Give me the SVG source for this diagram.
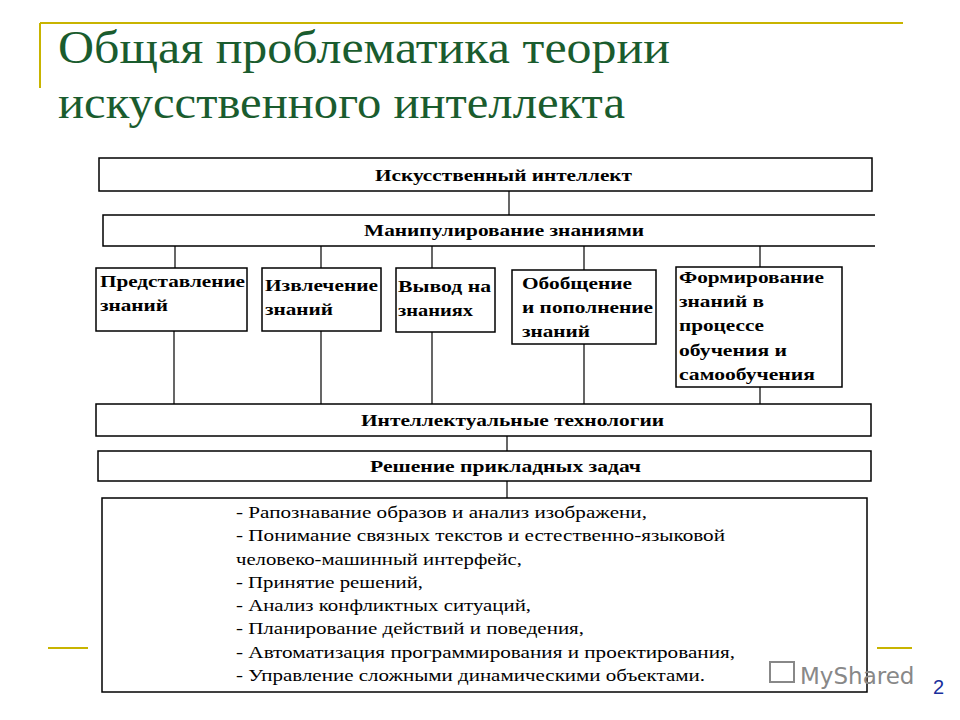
<svg xmlns="http://www.w3.org/2000/svg" width="960" height="720" viewBox="0 0 960 720">
<style>
.b{fill:#fff;stroke:#000;stroke-width:1.5}
.c{stroke:#000;stroke-width:1.2;fill:none}
.t{font-family:"Liberation Serif",serif;font-weight:bold;font-size:17px;fill:#000}
.m{text-anchor:middle}
.l{font-family:"Liberation Serif",serif;font-size:17px;fill:#000}
.g{stroke:#c8b400;stroke-width:2}
</style>
<rect width="960" height="720" fill="#fff"/>
<line class="g" x1="40" y1="23" x2="903" y2="23"/>
<line class="g" x1="40" y1="23" x2="40" y2="88"/>
<line class="g" x1="48" y1="648" x2="88" y2="648"/>
<line class="g" x1="877" y1="648" x2="912" y2="648"/>
<text x="58" y="63" font-family="Liberation Serif,serif" font-size="46" fill="#1a5c2e" textLength="612" lengthAdjust="spacingAndGlyphs">Общая проблематика теории</text>
<text x="58" y="118" font-family="Liberation Serif,serif" font-size="46" fill="#1a5c2e" textLength="567" lengthAdjust="spacingAndGlyphs">искусственного интеллекта</text>
<g id="connectors">
<line class="c" x1="509" y1="191" x2="509" y2="215"/>
<line class="c" x1="175" y1="246" x2="175" y2="268"/>
<line class="c" x1="321" y1="246" x2="321" y2="268"/>
<line class="c" x1="432" y1="246" x2="432" y2="268"/>
<line class="c" x1="584" y1="246" x2="584" y2="270"/>
<line class="c" x1="760" y1="246" x2="760" y2="267"/>
<line class="c" x1="174" y1="331" x2="174" y2="404"/>
<line class="c" x1="321" y1="331" x2="321" y2="404"/>
<line class="c" x1="432" y1="332" x2="432" y2="404"/>
<line class="c" x1="584" y1="344" x2="584" y2="404"/>
<line class="c" x1="760" y1="387" x2="760" y2="404"/>
<line class="c" x1="507" y1="436" x2="507" y2="451"/>
<line class="c" x1="507" y1="481" x2="507" y2="498"/>
</g>
<g id="ai"><rect class="b" x="99" y="158" width="773" height="33"/><text class="t" x="375" y="181" textLength="257" lengthAdjust="spacingAndGlyphs">Искусственный интеллект</text></g>
<g id="manip"><path class="b" d="M875 215 H103 V246 H875"/><text class="t" x="364" y="236" textLength="280" lengthAdjust="spacingAndGlyphs">Манипулирование знаниями</text></g>
<g id="n1"><rect class="b" x="96" y="268" width="151" height="63"/><text class="t" x="100" y="287" textLength="145" lengthAdjust="spacingAndGlyphs">Представление</text><text class="t" x="100" y="311" textLength="68" lengthAdjust="spacingAndGlyphs">знаний</text></g>
<g id="n2"><rect class="b" x="262" y="268" width="119" height="63"/><text class="t" x="265" y="291" textLength="113" lengthAdjust="spacingAndGlyphs">Извлечение</text><text class="t" x="265" y="315" textLength="68" lengthAdjust="spacingAndGlyphs">знаний</text></g>
<g id="n3"><rect class="b" x="396" y="268" width="99" height="64"/><text class="t" x="398" y="292" textLength="93" lengthAdjust="spacingAndGlyphs">Вывод на</text><text class="t" x="398" y="316" textLength="75" lengthAdjust="spacingAndGlyphs">знаниях</text></g>
<g id="n4"><rect class="b" x="512" y="270" width="144" height="74"/><text class="t" x="522" y="289" textLength="110" lengthAdjust="spacingAndGlyphs">Обобщение</text><text class="t" x="522" y="313" textLength="131" lengthAdjust="spacingAndGlyphs">и пополнение</text><text class="t" x="522" y="337" textLength="68" lengthAdjust="spacingAndGlyphs">знаний</text></g>
<g id="n5"><rect class="b" x="676" y="267" width="166" height="120"/><text class="t" x="679" y="283" textLength="145" lengthAdjust="spacingAndGlyphs">Формирование</text><text class="t" x="679" y="307" textLength="85" lengthAdjust="spacingAndGlyphs">знаний в</text><text class="t" x="679" y="331" textLength="85" lengthAdjust="spacingAndGlyphs">процессе</text><text class="t" x="679" y="356" textLength="108" lengthAdjust="spacingAndGlyphs">обучения и</text><text class="t" x="679" y="380" textLength="136" lengthAdjust="spacingAndGlyphs">самообучения</text></g>
<g id="tech"><rect class="b" x="96" y="404" width="775" height="32"/><text class="t" x="361" y="426" textLength="303" lengthAdjust="spacingAndGlyphs">Интеллектуальные технологии</text></g>
<g id="solve"><rect class="b" x="98" y="451" width="773" height="30"/><text class="t" x="370" y="472" textLength="271" lengthAdjust="spacingAndGlyphs">Решение прикладных задач</text></g>
<g id="list"><rect class="b" x="102" y="498" width="765" height="194"/>
<text class="l" x="236" y="518" textLength="411" lengthAdjust="spacingAndGlyphs">- Рапознавание образов и анализ изображени,</text>
<text class="l" x="236" y="541" textLength="489" lengthAdjust="spacingAndGlyphs">- Понимание связных текстов и естественно-языковой</text>
<text class="l" x="236" y="565" textLength="286" lengthAdjust="spacingAndGlyphs">человеко-машинный интерфейс,</text>
<text class="l" x="236" y="588" textLength="187" lengthAdjust="spacingAndGlyphs">- Принятие решений,</text>
<text class="l" x="236" y="611" textLength="295" lengthAdjust="spacingAndGlyphs">- Анализ конфликтных ситуаций,</text>
<text class="l" x="236" y="634" textLength="348" lengthAdjust="spacingAndGlyphs">- Планирование действий и поведения,</text>
<text class="l" x="236" y="658" textLength="499" lengthAdjust="spacingAndGlyphs">- Автоматизация программирования и проектирования,</text>
<text class="l" x="236" y="681" textLength="469" lengthAdjust="spacingAndGlyphs">- Управление сложными динамическими объектами.</text>
</g>
<rect x="770" y="662" width="24" height="20" fill="none" stroke="#888" stroke-width="2"/>
<text x="800" y="684" font-family="DejaVu Sans,sans-serif" font-size="23" fill="#888">MyShared</text>
<text x="933" y="694" font-family="Liberation Sans,sans-serif" font-size="20" fill="#1a2f9c">2</text>
</svg>
